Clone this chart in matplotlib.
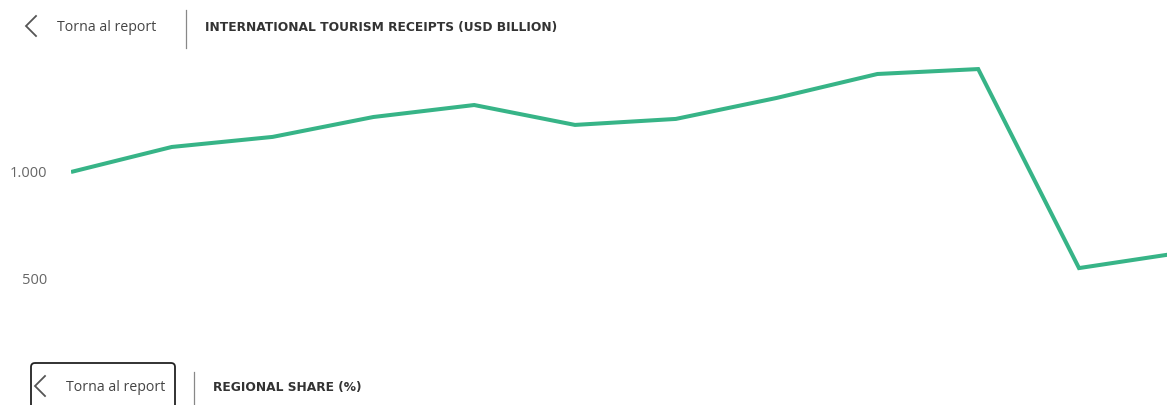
import matplotlib
matplotlib.use("Agg")
import matplotlib.pyplot as plt
from matplotlib.patches import FancyBboxPatch

# international tourism receipts, USD billion
years = [2010, 2011, 2012, 2013, 2014, 2015, 2016, 2017, 2018, 2019, 2020, 2021]
receipts = [1000, 1117, 1164, 1257, 1313, 1220, 1248, 1346, 1458, 1481, 551, 622]
ytick_vals = [500, 1000]
ytick_labels = ["1.000" if v == 1000 else str(v) for v in ytick_vals]

W, H = 1167, 405
LINE = "#37b487"
GREY = "#555555"

fig = plt.figure(figsize=(W / 100, H / 100), dpi=100)

# pixel-space overlay for the header bits
bg = fig.add_axes([0, 0, 1, 1])
bg.set_xlim(0, W)
bg.set_ylim(H, 0)
bg.axis("off")


def header(x0, y, title, sep_x, sep_top, sep_bot):
    bg.plot([x0 + 10, x0, x0 + 10], [y - 10, y, y + 10], color=GREY, lw=1.3,
            solid_joinstyle="miter")
    bg.text(x0 + 31, y + 1.5, "Torna al report", fontsize=10.2, color="#444444",
            family="Open Sans", va="center", ha="left")
    bg.plot([sep_x, sep_x], [sep_top, sep_bot], color="#888888", lw=0.9)
    bg.text(sep_x + 19, y + 1, title, fontsize=8.85, fontweight="bold",
            color="#333333", family="DejaVu Sans", va="center", ha="left")


header(26, 26, "INTERNATIONAL TOURISM RECEIPTS (USD BILLION)", 186, 10, 48)
header(35, 386, "REGIONAL SHARE (%)", 194, 372, 410)

box = FancyBboxPatch((31, 363), 144, 60, boxstyle="round,pad=0,rounding_size=4",
                     fc="none", ec="#222222", lw=1.3)
bg.add_patch(box)

# line chart
ax = fig.add_axes([71 / W, 1 - 330 / H, 1 - 71 / W, 280 / H])
ax.patch.set_alpha(0)
xs = list(range(len(years)))
ax.plot(xs, receipts, color=LINE, lw=2.9, solid_joinstyle="miter",
        solid_capstyle="butt")
ax.set_xlim(0, (W - 71) / 100.8)
ax.set_ylim(1000 - 158 * 4.673, 1000 + 122 * 4.673)
ax.set_yticks(ytick_vals)
ax.set_yticklabels(ytick_labels)
ax.tick_params(axis="y", length=0, pad=17, labelsize=10.5, labelcolor="#666666")
for lab in ax.get_yticklabels():
    lab.set_family("Open Sans")
ax.set_xticks([])
for s in ax.spines.values():
    s.set_visible(False)

fig.savefig("out.png", dpi=100)
